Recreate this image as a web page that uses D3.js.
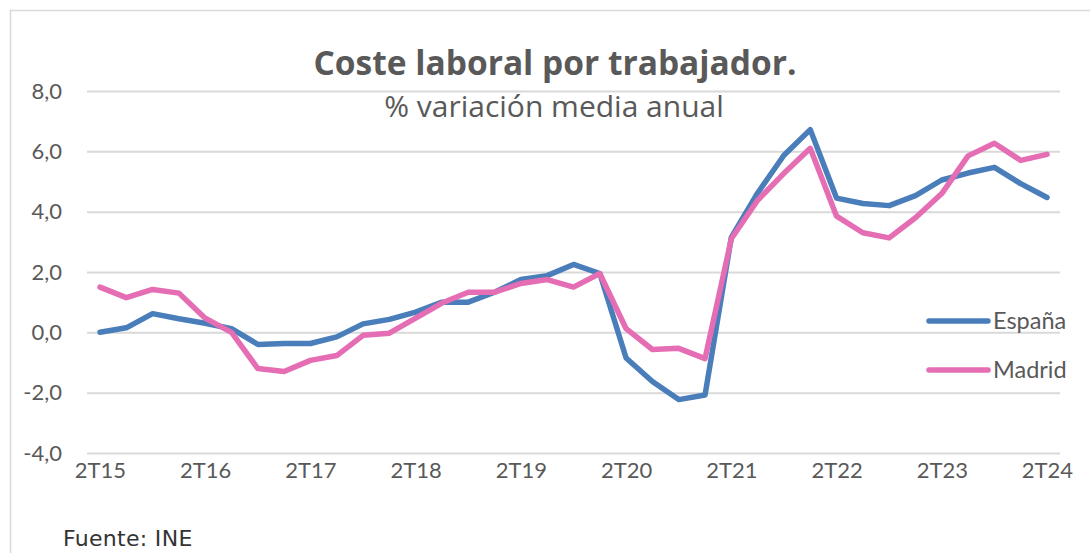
<!DOCTYPE html>
<html>
<head>
<meta charset="utf-8">
<script src="https://cdn.jsdelivr.net/npm/d3@7"></script>
<style>
  html, body { margin: 0; padding: 0; background: #fff; }
  svg text { font-family: Lato, "Open Sans", sans-serif; fill: #595959; }
</style>
</head>
<body>
<svg id="chart" width="1090" height="553"></svg>
<script>
// Quarterly periods, 2T15 … 2T24
const quarters = [];
for (let y = 15; y <= 24; y++) {
  for (let q = 1; q <= 4; q++) {
    if ((y === 15 && q < 2) || (y === 24 && q > 2)) continue;
    quarters.push(q + "T" + y);
  }
}
const tickLabels = ["2T15","2T16","2T17","2T18","2T19","2T20","2T21","2T22","2T23","2T24"];
const yTicks = [-4, -2, 0, 2, 4, 6, 8];

const espana = [0.0, 0.15, 0.62, 0.45, 0.3, 0.12, -0.4, -0.37, -0.37, -0.15,
                0.28, 0.43, 0.67, 1.0, 1.0, 1.33, 1.75, 1.88, 2.25, 1.95,
                -0.85, -1.63, -2.23, -2.08, 3.15, 4.62, 5.87, 6.72, 4.45, 4.27,
                4.2, 4.53, 5.05, 5.28, 5.47, 4.93, 4.47];
const madrid = [1.5, 1.15, 1.42, 1.3, 0.47, 0.0, -1.2, -1.3, -0.93, -0.77,
                -0.1, -0.03, 0.47, 0.97, 1.33, 1.33, 1.62, 1.75, 1.5, 1.95,
                0.12, -0.57, -0.53, -0.87, 3.1, 4.38, 5.27, 6.1, 3.85, 3.3,
                3.13, 3.8, 4.6, 5.85, 6.27, 5.7, 5.9];

const seriesNames = ["España", "Madrid"];
const seriesColors = ["#4A7EBB", "#E46DB3"];

const svg = d3.select("#chart");

// outer frame
svg.append("rect")
  .attr("x", 10.5).attr("y", 10.5)
  .attr("width", 1100).attr("height", 600)
  .attr("fill", "none").attr("stroke", "#d9d9d9").attr("stroke-width", 1.5);

const plotLeft = 87, plotRight = 1060;
const x = d3.scalePoint().domain(quarters).range([100, 1047]);
const y = d3.scaleLinear().domain([-4, 8]).range([453, 91]);

// Spanish number style: decimal comma, plain hyphen for negatives
const fmt = d => d3.format(".1f")(d).replace(".", ",").replace("\u2212", "-");

// y axis with gridlines
const yAxis = svg.append("g")
  .attr("transform", `translate(${plotLeft},0)`)
  .call(d3.axisLeft(y).tickValues(yTicks).tickFormat(fmt)
    .tickSize(-(plotRight - plotLeft)).tickPadding(25));
yAxis.select(".domain").remove();
yAxis.selectAll(".tick line").attr("stroke", "#d9d9d9").attr("stroke-width", 2);
yAxis.selectAll(".tick text").style("font-size", "22px").attr("fill", "#595959");

// x axis labels
const xAxis = svg.append("g")
  .attr("transform", `translate(0,${y(-4)})`)
  .call(d3.axisBottom(x).tickValues(tickLabels).tickSize(0).tickPadding(9));
xAxis.select(".domain").remove();
xAxis.selectAll(".tick text").style("font-size", "22px").attr("fill", "#595959");

// series lines
const line = d3.line().x((d, i) => x(quarters[i])).y(d => y(d));
[espana, madrid].forEach((vals, k) => {
  svg.append("path")
    .datum(vals)
    .attr("fill", "none")
    .attr("stroke", seriesColors[k])
    .attr("stroke-width", 5.5)
    .attr("stroke-linejoin", "round")
    .attr("stroke-linecap", "round")
    .attr("d", line);
});

// legend
const legend = svg.append("g");
seriesNames.forEach((name, k) => {
  const ly = 321 + k * 49;
  legend.append("line")
    .attr("x1", 929).attr("x2", 988).attr("y1", ly).attr("y2", ly)
    .attr("stroke", seriesColors[k]).attr("stroke-width", 5.5).attr("stroke-linecap", "round");
  legend.append("text")
    .attr("x", 993).attr("y", ly).attr("dy", "0.36em")
    .style("font-size", "23.5px").text(name);
});

// titles
svg.append("text")
  .attr("x", 555).attr("y", 75).attr("text-anchor", "middle")
  .style("font-family", "'Open Sans', sans-serif")
  .style("font-size", "33.5px").style("font-weight", "bold")
  .text("Coste laboral por trabajador.");
svg.append("text")
  .attr("x", 554).attr("y", 117).attr("text-anchor", "middle")
  .style("font-family", "'Open Sans', sans-serif")
  .style("font-size", "30px")
  .text("% variación media anual");

// source note
svg.append("text")
  .attr("x", 63).attr("y", 546)
  .style("font-family", "'DejaVu Sans', sans-serif")
  .style("font-size", "22px").style("letter-spacing", "0.3px")
  .style("fill", "#333")
  .text("Fuente: INE");
</script>
</body>
</html>
